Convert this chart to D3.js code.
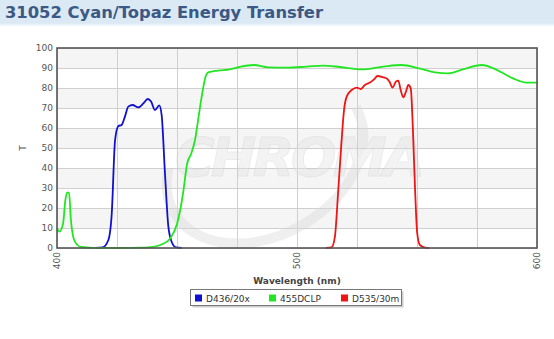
<!DOCTYPE html>
<html>
<head>
<meta charset="utf-8">
<script src="https://cdn.jsdelivr.net/npm/d3@7"></script>
<style>
  body { margin: 0; background: #fff; }
  svg { display: block; font-family: "DejaVu Sans", Verdana, sans-serif; }
</style>
</head>
<body>
<div id="chart"></div>
<script>
const width = 554;
const height = 339;
const margin = {top: 48, right: 17, bottom: 91, left: 57};

const chartTitle = "31052 Cyan/Topaz Energy Transfer";
const xLabel = "Wavelength (nm)";
const yLabel = "T";
const xTickLabels = [400, 500, 600];
const yTicks = [0, 10, 20, 30, 40, 50, 60, 70, 80, 90, 100];

const seriesNames = ["D436/20x", "455DCLP", "D535/30m"];
const seriesColors = ["#1010d0", "#22e622", "#ee1515"];

// [wavelength nm, transmission %]
const exciter = [
    [416, 0], [419, 0.3], [421.4, 4], [422.8, 17], [424.2, 54], [425.6, 61],
    [426.9, 61.5], [428.3, 65.7], [429.7, 70.7], [431.5, 71.5], [433.9, 70.3],
    [436, 72.3], [437.8, 74.5], [439.2, 73.2], [440.8, 69], [442.6, 71.3],
    [443.6, 66.5], [445, 37], [446.4, 10.7], [447.8, 3], [449.6, 0.3], [452, 0]
];
const dichroic = [
    [400, 9.8], [401, 8.2], [402.5, 12], [403.5, 24], [404.2, 27.7], [405, 27.7],
    [405.8, 14], [407, 4.5], [408.5, 1.5], [410, 0.5], [415, 0.1], [425, 0],
    [435, 0.2], [440, 0.6], [444, 2], [447, 4.5], [450, 12], [451.5, 20],
    [452.6, 28], [454.2, 42], [456, 47.5], [457.5, 54], [459, 65.7], [460.3, 75.7],
    [461.7, 84.8], [463, 87.8], [467, 88.7], [472, 89.3], [476, 90.5], [482, 91.5],
    [488, 90.3], [496, 90.2], [504, 90.7], [511, 91.2], [518, 90.5], [527, 89.3],
    [536, 90.7], [543.5, 91.5], [551, 89.8], [557.5, 87.8], [563, 87.3], [569, 89.3],
    [577, 91.5], [583, 89.2], [590, 84.8], [595.5, 82.7], [600, 82.7]
];
const emitter = [
    [512, 0], [514.4, 0.3], [515.8, 5.7], [517.2, 29], [518.6, 54], [519.6, 69],
    [520.7, 75.7], [522.8, 79], [524.9, 80.2], [526.5, 79.5], [528.3, 81.5],
    [530.4, 82.7], [532.1, 84.3], [533.5, 86], [536, 85.3], [537.4, 84.8],
    [538.5, 83.2], [539.9, 80.2], [541.2, 83.2], [542.2, 83.7], [543.2, 79],
    [544.3, 75.3], [545.4, 78.2], [546.4, 81.5], [547.4, 79.8], [548.2, 62.3],
    [549.2, 29], [550.1, 7.3], [551.2, 1.5], [553.3, 0.2], [555, 0]
];
const allSeries = [exciter, dichroic, emitter];

const svg = d3.select("#chart").append("svg")
    .attr("width", width)
    .attr("height", height);

// Title bar with soft fade at the bottom.
const defs = svg.append("defs");
const grad = defs.append("linearGradient")
    .attr("id", "titleFade").attr("x1", 0).attr("x2", 0).attr("y1", 0).attr("y2", 1);
grad.append("stop").attr("offset", "0%").attr("stop-color", "#dae9f4");
grad.append("stop").attr("offset", "100%").attr("stop-color", "#ffffff");
svg.append("rect").attr("x", 0).attr("y", 0).attr("width", width).attr("height", 23)
    .attr("fill", "#dae9f4");
svg.append("rect").attr("x", 0).attr("y", 23).attr("width", width).attr("height", 4)
    .attr("fill", "url(#titleFade)");
svg.append("text")
    .attr("x", 5).attr("y", 18)
    .attr("font-size", "15px")
    .attr("font-weight", "bold")
    .attr("fill", "#3c5884")
    .attr("textLength", 318)
    .attr("lengthAdjust", "spacingAndGlyphs")
    .text(chartTitle);

const x = d3.scaleLinear().domain([400, 600]).range([margin.left, width - margin.right]);
const y = d3.scaleLinear().domain([0, 100]).range([height - margin.bottom, margin.top]);

// Alternating bands.
svg.append("g").selectAll("rect")
    .data(yTicks.filter(t => t < 100 && (t / 10) % 2 === 1))
    .enter().append("rect")
    .attr("x", x(400))
    .attr("width", x(600) - x(400))
    .attr("y", d => y(d + 10))
    .attr("height", d => y(d) - y(d + 10))
    .attr("fill", "#f5f5f5");

// Grid.
const grid = svg.append("g").attr("stroke", "#cfcfcf").attr("stroke-width", 1);
grid.selectAll("line.h").data(yTicks).enter().append("line")
    .attr("x1", x(400)).attr("x2", x(600))
    .attr("y1", d => Math.round(y(d)) + 0.5).attr("y2", d => Math.round(y(d)) + 0.5);
grid.selectAll("line.v").data(d3.range(400, 601, 25)).enter().append("line")
    .attr("y1", y(0)).attr("y2", y(100))
    .attr("x1", d => Math.round(x(d)) + 0.5).attr("x2", d => Math.round(x(d)) + 0.5);

// Faint logo watermark.
const wm = svg.append("g").attr("opacity", 0.4);
wm.append("ellipse")
    .attr("cx", 265).attr("cy", 160).attr("rx", 105).attr("ry", 75)
    .attr("transform", "rotate(-30,265,160)")
    .attr("fill", "none").attr("stroke", "#d8d8d8").attr("stroke-width", 10)
    .attr("stroke-dasharray", "330 400");
wm.append("text")
    .attr("x", 300).attr("y", 176)
    .attr("text-anchor", "middle")
    .attr("font-size", "54px")
    .attr("font-weight", "bold")
    .attr("font-style", "italic")
    .attr("fill", "#e2e2e2")
    .attr("stroke", "#d0d0d0")
    .attr("stroke-width", 1)
    .attr("textLength", 250)
    .text("CHROMA");

// Curves.
const line = d3.line()
    .x(d => x(d[0]))
    .y(d => y(d[1]))
    .curve(d3.curveMonotoneX);
svg.append("g").selectAll("path")
    .data(allSeries)
    .enter().append("path")
    .attr("d", line)
    .attr("fill", "none")
    .attr("stroke", (d, i) => seriesColors[i])
    .attr("stroke-width", 1.8)
    .attr("stroke-linejoin", "round");

// Frame.
svg.append("rect")
    .attr("x", x(400)).attr("y", y(100))
    .attr("width", x(600) - x(400)).attr("height", y(0) - y(100))
    .attr("fill", "none").attr("stroke", "#555").attr("stroke-width", 1.6);

// Y axis labels.
svg.append("g")
    .attr("transform", `translate(${x(400)},0)`)
    .call(d3.axisLeft(y).tickValues(yTicks).tickSize(0).tickPadding(4))
    .call(g => g.select(".domain").remove())
    .selectAll("text")
    .attr("font-family", "DejaVu Sans, sans-serif")
    .attr("font-size", "9px")
    .attr("fill", "#555");

// X axis labels, rotated.
svg.append("g")
    .attr("transform", `translate(0,${y(0)})`)
    .call(d3.axisBottom(x).tickValues(xTickLabels).tickSize(0).tickFormat(d3.format("d")))
    .call(g => g.select(".domain").remove())
    .selectAll("text")
    .attr("font-family", "DejaVu Sans, sans-serif")
    .attr("font-size", "9px")
    .attr("fill", "#555")
    .style("text-anchor", "end")
    .attr("dx", "-4px")
    .attr("dy", "0.32em")
    .attr("y", 0)
    .attr("transform", "rotate(-90)");

// Axis titles.
svg.append("text")
    .attr("x", 297).attr("y", 284)
    .attr("text-anchor", "middle")
    .attr("font-size", "9px")
    .attr("font-weight", "bold")
    .attr("fill", "#444")
    .text(xLabel);
svg.append("text")
    .attr("transform", "translate(26,148) rotate(-90)")
    .attr("text-anchor", "middle")
    .attr("font-size", "9px")
    .attr("fill", "#555")
    .text(yLabel);

// Legend.
const legendX = [195, 269, 341];
const legend = svg.append("g");
legend.append("rect")
    .attr("x", 192.5).attr("y", 291.5).attr("width", 211).attr("height", 16)
    .attr("fill", "#ccc");
legend.append("rect")
    .attr("x", 190.5).attr("y", 289.5).attr("width", 211).attr("height", 16)
    .attr("fill", "#fff").attr("stroke", "#777");
const items = legend.selectAll("g.item").data(seriesNames).enter().append("g")
    .attr("transform", (d, i) => `translate(${legendX[i]},294.5)`);
items.append("rect")
    .attr("width", 7).attr("height", 7)
    .attr("fill", (d, i) => seriesColors[i]);
items.append("text")
    .attr("x", 11).attr("y", 7)
    .attr("font-size", "9px")
    .attr("fill", "#333")
    .text(d => d);
</script>
</body>
</html>
